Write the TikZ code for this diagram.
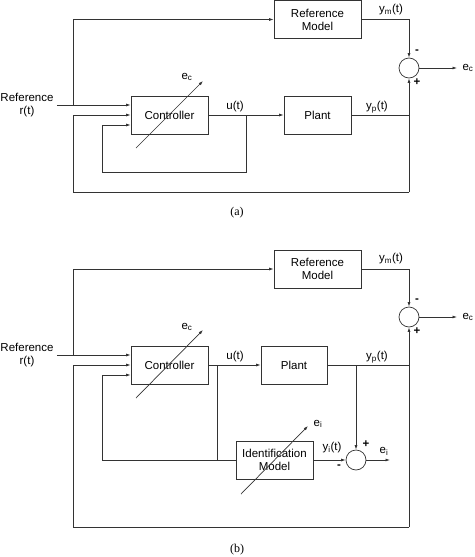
\documentclass[tikz,border=0pt]{standalone}
\usepackage{fontspec}
\setmainfont{Liberation Sans}
\newfontfamily\capfont{Liberation Serif}
\usetikzlibrary{arrows.meta}

\begin{document}
\begin{tikzpicture}[x=1pt,y=-1pt,line width=0.7pt,black!80,
  >={Latex[length=4.5pt,width=3pt]},
  blk/.style={draw,inner sep=0pt,align=center,minimum height=38pt,text=black},
  sumnode/.style={draw,circle,minimum size=20pt,inner sep=0pt},
  lbl/.style={inner sep=1pt,text=black,align=center},
  sgn/.style={lbl,font=\bfseries},
  capt/.style={text=black,font=\capfont\fontsize{12}{14}\selectfont}]
\useasboundingbox (0,0) rectangle (474,557);
\fontsize{11.5}{13}\selectfont

% (a)
\node[blk,minimum width=77pt] (ctrla) at (169.5,115) {Controller};
\node[blk,minimum width=87pt] (refa) at (317.5,19.5) {Reference\\Model};
\node[blk,minimum width=67pt] (planta) at (317.5,115) {Plant};
\node[sumnode] (suma) at (409,68) {};
\node[lbl] (ina) at (27,105) {Reference\\r(t)};
\coordinate (ja) at (73,105);
\coordinate (ua) at (246,115);
\coordinate (ba) at (409,192);
\coordinate (eca) at (457,68);
\draw[->] ([xshift=2pt]ina.east) -- (ctrla.west |- ina.east);
\draw[->] (ja) |- (refa.west);
\draw[->] (refa.east) -| (suma.north);
\draw[->] (suma.east) -- (eca);
\draw[->] (ctrla) -- (planta);
\draw (planta.east) -- (suma.south |- planta.east);
\draw[->] (ba) -- (suma.south);
\draw[->] (ba) -| (73,115) -- (ctrla.west);
\draw[->] (ua) |- (102,172) |- ([yshift=-10pt]ctrla.west);
\draw[->] (136,148) -- (203,81);
\node[lbl] at (187,77) {e\textsubscript{c}};
\node[lbl] at (235,107) {u(t)};
\node[lbl] at (377,107) {y\textsubscript{p}(t)};
\node[lbl] at (391,10) {y\textsubscript{m}(t)};
\node[sgn] at (417,52) {-};
\node[sgn] at (417,82) {+};
\node[lbl] at (468,68) {e\textsubscript{c}};
\node[capt] at (237,213) {(a)};

% (b)
\node[blk,minimum width=77pt] (ctrlb) at (169.5,365) {Controller};
\node[blk,minimum width=87pt] (refb) at (317.5,269) {Reference\\Model};
\node[blk,minimum width=66pt] (plantb) at (294,365) {Plant};
\node[blk,minimum width=77pt] (identb) at (274.5,460) {Identification\\Model};
\node[sumnode] (sumb) at (409,317) {};
\node[sumnode] (sumi) at (356,460) {};
\node[lbl] (inb) at (27,355) {Reference\\r(t)};
\coordinate (jb) at (73,355);
\coordinate (ub) at (217,365);
\coordinate (yb) at (356,365);
\coordinate (bb) at (409,527);
\coordinate (ecb) at (457,317);
\coordinate (eib) at (390,460);
\draw[->] ([xshift=2pt]inb.east) -- (ctrlb.west |- inb.east);
\draw[->] (jb) |- (refb.west);
\draw[->] (refb.east) -| (sumb.north);
\draw[->] (sumb.east) -- (ecb);
\draw[->] (ctrlb) -- (plantb);
\draw (plantb.east) -- (sumb.south |- plantb.east);
\draw[->] (bb) -- (sumb.south);
\draw[->] (bb) -| (73,365) -- (ctrlb.west);
\draw (ub) |- (identb.west);
\draw[->] (ub |- identb.west) -| (102,375) -- ([yshift=-10pt]ctrlb.west);
\draw[->] (yb) -- (sumi.north);
\draw[->] (identb.east) -- (sumi.west);
\draw[->] (sumi.east) -- (eib);
\draw[->] (136,398) -- (203,330);
\draw[->] (241,494) -- (308,426);
\node[lbl] at (187,327) {e\textsubscript{c}};
\node[lbl] at (318,424) {e\textsubscript{i}};
\node[lbl] at (235,357) {u(t)};
\node[lbl] at (377,357) {y\textsubscript{p}(t)};
\node[lbl] at (391,259) {y\textsubscript{m}(t)};
\node[lbl] at (332,448) {y\textsubscript{i}(t)};
\node[sgn] at (417,301) {-};
\node[sgn] at (417,331) {+};
\node[sgn] at (339,467) {-};
\node[sgn] at (366,444) {+};
\node[lbl] at (468,317) {e\textsubscript{c}};
\node[lbl] at (384,451) {e\textsubscript{i}};
\node[capt] at (237,550) {(b)};
\end{tikzpicture}
\end{document}
